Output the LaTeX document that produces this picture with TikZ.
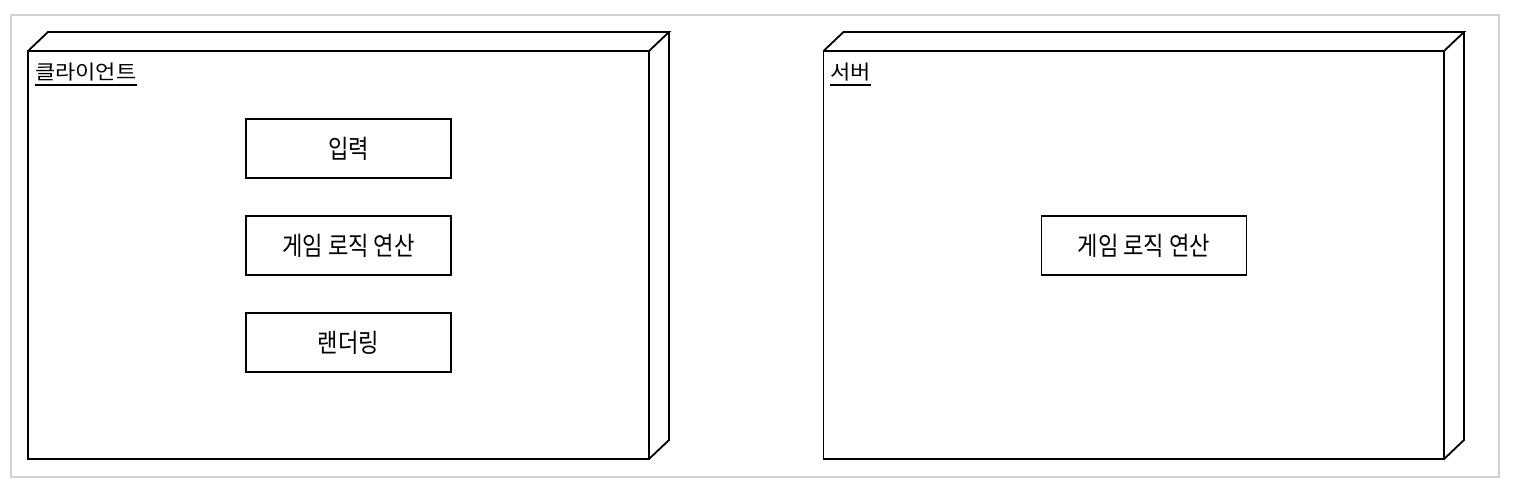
\documentclass[tikz,border=0pt]{standalone}
\usepackage{fontspec}
\usetikzlibrary{calc}
\newfontfamily\krlab[FakeStretch=1.1]{Noto Sans CJK KR}
\newfontfamily\krin[FakeStretch=0.86]{Noto Sans CJK KR}
\begin{document}
\begin{tikzpicture}[x=1pt,y=-1pt,
  frame/.style={draw=black!18,line width=1.3pt},
  nodebox/.style={draw=black,line width=1.8pt,line join=miter,minimum width=#1,minimum height=408,inner sep=0,outer sep=0},
  face/.style={draw=black,line width=1.8pt,line join=miter},
  comp/.style={draw=black,line width=1.8pt,minimum width=205,minimum height=59,inner sep=0,outer sep=0,font=\krin\fontsize{25.8}{30}\selectfont},
  lab/.style={anchor=base west,inner sep=0,font=\krlab\fontsize{20}{24}\selectfont},
  uline/.style={draw=black,line width=1.4pt}]
\useasboundingbox (0,0) rectangle (1514,488);
\node[frame,minimum width=1488,minimum height=462,inner sep=0] (bg) at (755,246) {};
% client node
\node[nodebox=621] (cl) at (338.5,255) {};
\draw[face] (cl.north west) -- ($(cl.north west)+(20,-19)$) -- ($(cl.north east)+(20,-19)$) -- (cl.north east);
\draw[face] ($(cl.north east)+(20,-19)$) -- ($(cl.south east)+(20,-19)$) -- (cl.south east);
\node[lab] (cllab) at (35,79) {클라이언트};
\draw[uline] ($(cllab.base west)+(0,6)$) -- ($(cllab.base east)+(0,6)$);
% server node
\node[nodebox=620.5] (sv) at (1133.75,255) {};
\draw[face] (sv.north west) -- ($(sv.north west)+(20,-19)$) -- ($(sv.north east)+(20,-19)$) -- (sv.north east);
\draw[face] ($(sv.north east)+(20,-19)$) -- ($(sv.south east)+(20,-19)$) -- (sv.south east);
\node[lab] (svlab) at (830,79) {서버};
\draw[uline] ($(svlab.base west)+(0,6)$) -- ($(svlab.base east)+(0,6)$);
% components
\node[comp] (in) at (348.5,148.5) {입력};
\node[comp] (gl) at (348.5,245.5) {게임 로직 연산};
\node[comp] (rd) at (348.5,342.5) {랜더링};
\node[comp] (sgl) at (1144,245.5) {게임 로직 연산};
\end{tikzpicture}
\end{document}
